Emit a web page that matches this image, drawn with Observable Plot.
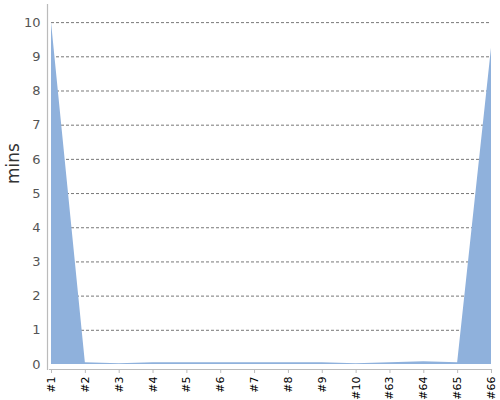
<!DOCTYPE html>
<html>
<head>
<meta charset="utf-8">
<script src="https://cdn.jsdelivr.net/npm/d3@7"></script>
<script src="https://cdn.jsdelivr.net/npm/@observablehq/plot@0.6"></script>
<style>
  html, body { margin: 0; padding: 0; background: #fff; }
  svg { display: block; }
</style>
</head>
<body>
<div id="chart"></div>
<script>
const labels = ["#1","#2","#3","#4","#5","#6","#7","#8","#9","#10","#63","#64","#65","#66"];
const values = [10, 0.05, 0.02, 0.05, 0.05, 0.05, 0.05, 0.05, 0.05, 0.02, 0.05, 0.08, 0.05, 9.25];
const yTicks = [0,1,2,3,4,5,6,7,8,9,10];
const gridTicks = [1,2,3,4,5,6,7,8,9,10];
const yLabel = "mins";

const data = labels.map((l, i) => ({label: l, value: values[i]}));

const chart = Plot.plot({
  width: 500,
  height: 400,
  marginLeft: 47,
  marginRight: 9,
  marginTop: 4,
  marginBottom: 31,
  style: {fontFamily: "DejaVu Sans, sans-serif", background: "#fff"},
  x: {type: "point", domain: labels, padding: 0, round: false, insetLeft: 4, label: null},
  y: {domain: [0, 10.53], insetBottom: 5, label: null},
  marks: [
    Plot.gridY(gridTicks, {stroke: "#555", strokeOpacity: 1, strokeDasharray: "3,2", strokeWidth: 0.8, insetLeft: 4}),
    Plot.areaY(data, {x: "label", y: "value", fill: "#8fb1dc"}),
    Plot.frame({anchor: "left", stroke: "#bbb", strokeWidth: 1.2}),
    Plot.frame({anchor: "bottom", stroke: "#bbb", strokeWidth: 1.2, insetLeft: 2}),
    Plot.axisY(yTicks, {tickSize: 0, tickPadding: 7, fontSize: 13, fill: "#555", label: null}),
    Plot.axisX({tickSize: 4, stroke: "#bbb", tickRotate: -90, tickPadding: 3, fontSize: 11, fill: "#000", label: null}),
    Plot.text([yLabel], {frameAnchor: "left", dx: -34, rotate: -90, fontSize: 17, fill: "#333", dy: -3})
  ]
});
document.getElementById("chart").appendChild(chart);
</script>
</body>
</html>
